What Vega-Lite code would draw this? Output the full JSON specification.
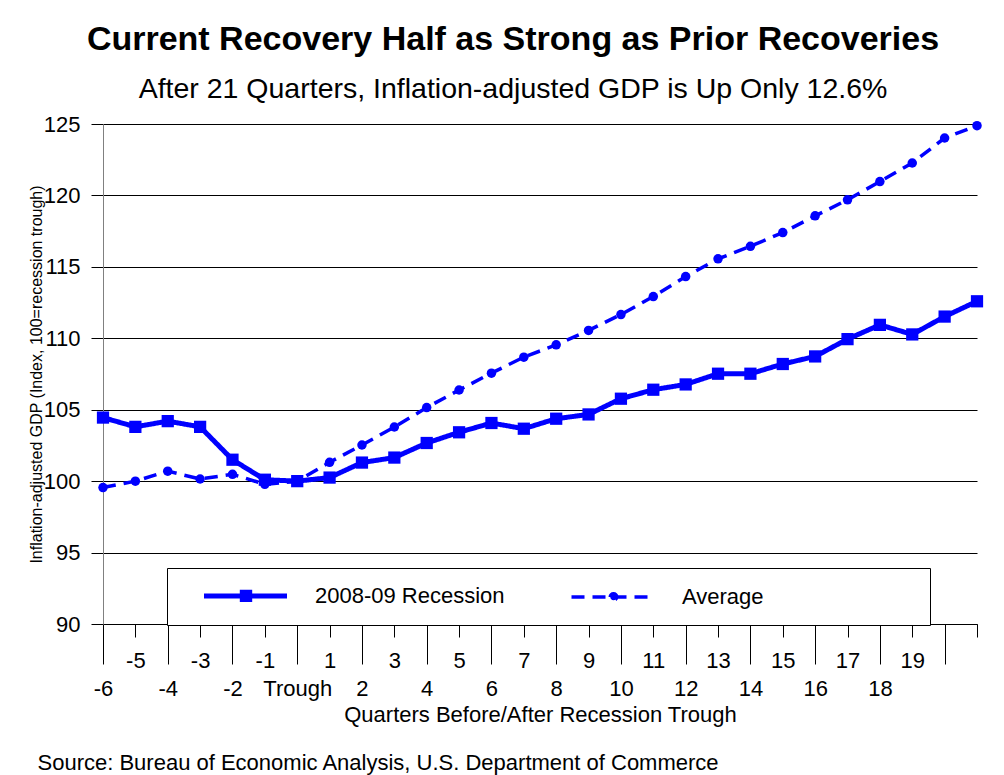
{
  "$schema": "https://vega.github.io/schema/vega-lite/v6.json",
  "autosize": {"type": "none"},
  "padding": {"left": 103, "top": 124, "right": 27, "bottom": 151},
  "width": 874,
  "height": 500,
  "background": "#ffffff",
  "config": {
    "view": {"stroke": null},
    "font": "Liberation Sans"
  },
  "title": {
    "text": "Current Recovery Half as Strong as Prior Recoveries",
    "subtitle": "After 21 Quarters, Inflation-adjusted GDP is Up Only 12.6%",
    "font": "Liberation Sans",
    "fontSize": 34,
    "fontWeight": "bold",
    "color": "#000000",
    "subtitleFont": "Liberation Sans",
    "subtitleFontSize": 28.5,
    "subtitleColor": "#000000",
    "subtitlePadding": 18,
    "anchor": "middle",
    "frame": "group",
    "dx": -27,
    "offset": 10
  },
  "data": {
    "values": [
      {"q": -6, "series": "2008-09 Recession", "value": 104.45},
      {"q": -5, "series": "2008-09 Recession", "value": 103.8},
      {"q": -4, "series": "2008-09 Recession", "value": 104.2},
      {"q": -3, "series": "2008-09 Recession", "value": 103.8},
      {"q": -2, "series": "2008-09 Recession", "value": 101.5},
      {"q": -1, "series": "2008-09 Recession", "value": 100.1},
      {"q": 0, "series": "2008-09 Recession", "value": 100.0},
      {"q": 1, "series": "2008-09 Recession", "value": 100.25},
      {"q": 2, "series": "2008-09 Recession", "value": 101.3},
      {"q": 3, "series": "2008-09 Recession", "value": 101.65},
      {"q": 4, "series": "2008-09 Recession", "value": 102.67},
      {"q": 5, "series": "2008-09 Recession", "value": 103.42},
      {"q": 6, "series": "2008-09 Recession", "value": 104.07},
      {"q": 7, "series": "2008-09 Recession", "value": 103.67},
      {"q": 8, "series": "2008-09 Recession", "value": 104.37},
      {"q": 9, "series": "2008-09 Recession", "value": 104.67},
      {"q": 10, "series": "2008-09 Recession", "value": 105.77},
      {"q": 11, "series": "2008-09 Recession", "value": 106.4},
      {"q": 12, "series": "2008-09 Recession", "value": 106.77},
      {"q": 13, "series": "2008-09 Recession", "value": 107.52},
      {"q": 14, "series": "2008-09 Recession", "value": 107.52},
      {"q": 15, "series": "2008-09 Recession", "value": 108.2},
      {"q": 16, "series": "2008-09 Recession", "value": 108.73},
      {"q": 17, "series": "2008-09 Recession", "value": 109.94},
      {"q": 18, "series": "2008-09 Recession", "value": 110.94},
      {"q": 19, "series": "2008-09 Recession", "value": 110.27},
      {"q": 20, "series": "2008-09 Recession", "value": 111.52},
      {"q": 21, "series": "2008-09 Recession", "value": 112.59},
      {"q": -6, "series": "Average", "value": 99.55},
      {"q": -5, "series": "Average", "value": 100.0},
      {"q": -4, "series": "Average", "value": 100.7},
      {"q": -3, "series": "Average", "value": 100.15},
      {"q": -2, "series": "Average", "value": 100.48},
      {"q": -1, "series": "Average", "value": 99.78},
      {"q": 0, "series": "Average", "value": 100.0},
      {"q": 1, "series": "Average", "value": 101.32},
      {"q": 2, "series": "Average", "value": 102.53},
      {"q": 3, "series": "Average", "value": 103.79},
      {"q": 4, "series": "Average", "value": 105.15},
      {"q": 5, "series": "Average", "value": 106.38},
      {"q": 6, "series": "Average", "value": 107.56},
      {"q": 7, "series": "Average", "value": 108.68},
      {"q": 8, "series": "Average", "value": 109.54},
      {"q": 9, "series": "Average", "value": 110.55},
      {"q": 10, "series": "Average", "value": 111.66},
      {"q": 11, "series": "Average", "value": 112.92},
      {"q": 12, "series": "Average", "value": 114.32},
      {"q": 13, "series": "Average", "value": 115.56},
      {"q": 14, "series": "Average", "value": 116.44},
      {"q": 15, "series": "Average", "value": 117.4},
      {"q": 16, "series": "Average", "value": 118.57},
      {"q": 17, "series": "Average", "value": 119.69},
      {"q": 18, "series": "Average", "value": 120.97},
      {"q": 19, "series": "Average", "value": 122.27},
      {"q": 20, "series": "Average", "value": 124.02},
      {"q": 21, "series": "Average", "value": 124.88}
    ]
  },
  "resolve": {"axis": {"x": "independent"}},
  "layer": [
    {
      "mark": {"type": "line", "strokeJoin": "round"},
      "encoding": {
        "x": {
          "field": "q",
          "type": "quantitative",
          "scale": {"domain": [-6, 21], "nice": false, "zero": false},
          "axis": {
            "orient": "bottom",
            "values": [-5, -3, -1, 1, 3, 5, 7, 9, 11, 13, 15, 17, 19, 21],
            "grid": false,
            "domainColor": "#000000",
            "domainWidth": 1,
            "tickColor": "#000000",
            "tickWidth": 1,
            "tickSize": 13,
            "labelPadding": 13,
            "labelFont": "Liberation Sans",
            "labelFontSize": 22,
            "labelColor": "#000000",
            "labelOverlap": false,
            "labelFlush": false,
            "labelBound": false,
            "labelExpr": "datum.value >= 20 ? '' : '' + datum.value",
            "title": null
          }
        },
        "y": {
          "field": "value",
          "type": "quantitative",
          "scale": {"domain": [90, 125], "nice": false, "zero": false},
          "axis": {
            "values": [90, 95, 100, 105, 110, 115, 120, 125],
            "grid": true,
            "gridColor": "#000000",
            "gridWidth": 1,
            "gridOpacity": 1,
            "domainColor": "#808080",
            "domainWidth": 1,
            "tickColor": "#000000",
            "tickSize": 12,
            "labelPadding": 11,
            "labelFont": "Liberation Sans",
            "labelFontSize": 22,
            "labelColor": "#000000",
            "title": "Inflation-adjusted GDP (Index, 100=recession trough)",
            "titleFont": "Liberation Sans",
            "titleFontSize": 16,
            "titleFontWeight": "normal",
            "titleColor": "#000000",
            "titleAngle": -90,
            "titleAlign": "center",
            "titleBaseline": "bottom",
            "titleX": -59,
            "titleY": 250
          }
        },
        "color": {
          "field": "series",
          "type": "nominal",
          "scale": {"domain": ["2008-09 Recession", "Average"], "range": ["#0000ff", "#0000ff"]},
          "legend": {
            "title": null,
            "orient": "none",
            "legendX": 64,
            "legendY": 444,
            "direction": "horizontal",
            "strokeColor": "#000000",
            "fillColor": "#ffffff",
            "padding": 15,
            "gridAlign": "all",
            "columnPadding": -4,
            "labelFont": "Liberation Sans",
            "labelFontSize": 22,
            "labelColor": "#000000",
            "labelOffset": 108,
            "labelLimit": 0,
            "symbolSize": 400,
            "symbolOpacity": 1,
            "symbolFillColor": "#0000ff",
            "symbolStrokeColor": "#0000ff"
          }
        },
        "strokeDash": {
          "field": "series",
          "type": "nominal",
          "scale": {"domain": ["2008-09 Recession", "Average"], "range": [[1, 0], [13, 8]]},
          "legend": null
        },
        "strokeWidth": {
          "field": "series",
          "type": "nominal",
          "scale": {"domain": ["2008-09 Recession", "Average"], "range": [5, 3.5]},
          "legend": null
        }
      }
    },
    {
      "transform": [{"filter": "datum.series === '2008-09 Recession'"}],
      "mark": {"type": "point", "filled": true, "opacity": 1, "color": "#0000ff", "shape": "square", "size": 150},
      "encoding": {
        "x": {
          "field": "q",
          "type": "quantitative",
          "axis": {
            "orient": "bottom",
            "values": [-6, -4, -2, 0, 2, 4, 6, 8, 10, 12, 14, 16, 18, 20],
            "grid": false,
            "domain": false,
            "tickColor": "#000000",
            "tickWidth": 1,
            "tickSize": 40,
            "labelPadding": 14,
            "labelFont": "Liberation Sans",
            "labelFontSize": 22,
            "labelColor": "#000000",
            "labelOverlap": false,
            "labelFlush": false,
            "labelBound": false,
            "labelExpr": "datum.value === 0 ? 'Trough' : (datum.value >= 20 ? '' : '' + datum.value)",
            "title": "Quarters Before/After Recession Trough",
            "titleFont": "Liberation Sans",
            "titleFontSize": 22,
            "titleFontWeight": "normal",
            "titleColor": "#000000",
            "titleY": 80,
            "titleBaseline": "top"
          }
        },
        "y": {"field": "value", "type": "quantitative"}
      }
    },
    {
      "transform": [{"filter": "datum.series === 'Average'"}],
      "mark": {"type": "point", "filled": true, "opacity": 1, "color": "#0000ff", "shape": "circle", "size": 90},
      "encoding": {
        "x": {
          "field": "q",
          "type": "quantitative",
          "axis": {
            "orient": "bottom",
            "domain": false,
            "ticks": false,
            "labels": false,
            "grid": false,
            "title": "Source: Bureau of Economic Analysis, U.S. Department of Commerce",
            "titleFont": "Liberation Sans",
            "titleFontSize": 22,
            "titleFontWeight": "normal",
            "titleColor": "#000000",
            "titleX": -66,
            "titleY": 128,
            "titleAlign": "left",
            "titleAnchor": "start",
            "titleBaseline": "top"
          }
        },
        "y": {"field": "value", "type": "quantitative"}
      }
    },
    {
      "mark": {"type": "point", "filled": true, "opacity": 1, "size": 0, "color": "#0000ff"},
      "encoding": {
        "x": {"field": "q", "type": "quantitative", "axis": null},
        "y": {"field": "value", "type": "quantitative"},
        "shape": {
          "field": "series",
          "type": "nominal",
          "scale": {
            "domain": ["2008-09 Recession", "Average"],
            "range": [
              "M0.95,0H9.25M4.78,-0.37H5.52V0.37H4.78ZM34.55,0",
              "M0.95,0H9.25M4.825,0A0.325,0.325,0,1,1,5.475,0A0.325,0.325,0,1,1,4.825,0ZM34.55,0"
            ]
          },
          "legend": null
        }
      }
    }
  ]
}
